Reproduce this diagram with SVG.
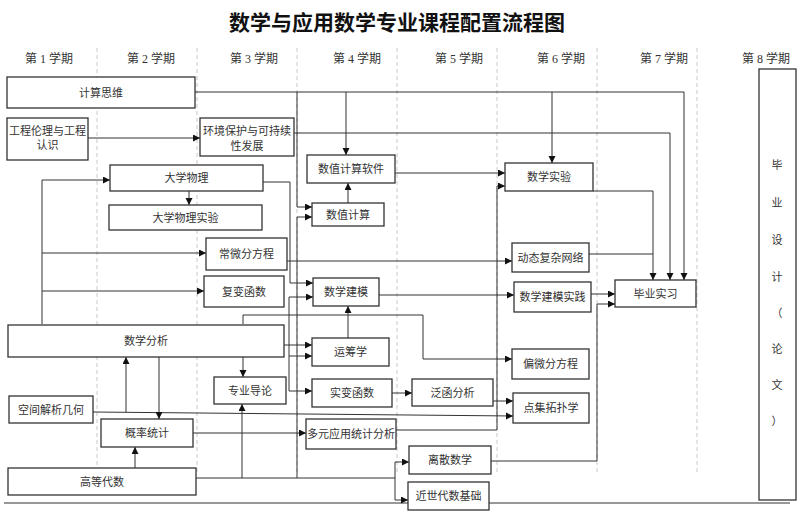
<svg xmlns="http://www.w3.org/2000/svg" width="799" height="513" viewBox="0 0 799 513">
<style>
.bx{fill:#fff;stroke:#333;stroke-width:1.3}
.t{font-family:"Liberation Serif","Noto Sans CJK SC",serif;font-size:11px;fill:#333;text-anchor:middle}
.h{font-family:"Liberation Serif","Noto Sans CJK SC",serif;font-size:12px;fill:#333;text-anchor:middle}
.ttl{font-family:"Liberation Serif","Noto Sans CJK SC",serif;font-size:21px;font-weight:bold;fill:#111;text-anchor:middle}
.dash{stroke:#c8c8c8;stroke-width:1;stroke-dasharray:4 3;fill:none}
.c{fill:none;stroke:#333;stroke-width:1}
.a{marker-end:url(#ar)}
</style>
<defs>
<marker id="ar" markerUnits="userSpaceOnUse" markerWidth="8" markerHeight="8" refX="7" refY="3.5" orient="auto">
<path d="M0,0 L7,3.5 L0,7 z" fill="#111"/>
</marker>
</defs>
<rect width="799" height="513" fill="#fff"/>
<text class="ttl" x="397" y="30">数学与应用数学专业课程配置流程图</text>
<g id="headers">
<text class="h" x="49" y="63">第 1 学期</text>
<text class="h" x="151" y="63">第 2 学期</text>
<text class="h" x="254" y="63">第 3 学期</text>
<text class="h" x="357" y="63">第 4 学期</text>
<text class="h" x="459" y="63">第 5 学期</text>
<text class="h" x="561" y="63">第 6 学期</text>
<text class="h" x="664" y="63">第 7 学期</text>
<text class="h" x="766" y="63">第 8 学期</text>
</g>
<g id="grid">
<path class="dash" d="M97,48V472M197,48V472M297,48V472M397,48V472M497,48V472M597,48V472M697,48V472"/>
<path class="c" d="M4,503H790" stroke-width="1.3"/>
</g>
<g id="connectors">
<path class="c a" d="M195,92H684V280"/>
<path class="c a" d="M346,92V155"/>
<path class="c a" d="M552,92V163"/>
<path class="c a" d="M297,92V207H312"/>
<path class="c a" d="M88,138H200"/>
<path class="c a" d="M294,133H670V280"/>
<path class="c a" d="M263,182H290V283H313"/>
<path class="c a" d="M189,191V205"/>
<path class="c a" d="M42,324V180H110"/>
<path class="c a" d="M42,253H206"/>
<path class="c a" d="M42,291H204"/>
<path class="c a" d="M348,203V183"/>
<path class="c a" d="M395,173H505"/>
<path class="c a" d="M287,261H512"/>
<path class="c a" d="M379,295H514"/>
<path class="c a" d="M593,191H653V280"/>
<path class="c" d="M589,254H653"/>
<path class="c a" d="M591,294H615"/>
<path class="c a" d="M491,461H597V304H615"/>
<path class="c a" d="M396,430H497V186H505"/>
<path class="c a" d="M348,338V306"/>
<path class="c a" d="M243,324V315H423V359H512"/>
<path class="c a" d="M284,345H312"/>
<path class="c a" d="M289,391V297H313"/>
<path class="c a" d="M289,356H312"/>
<path class="c a" d="M289,391H312"/>
<path class="c a" d="M243,357V377"/>
<path class="c" d="M196,478H395M395,462V500"/>
<path class="c a" d="M395,462H409"/>
<path class="c a" d="M395,500H408"/>
<path class="c a" d="M242,478V404"/>
<path class="c a" d="M297,478V217H312"/>
<path class="c a" d="M93,412L513,416"/>
<path class="c a" d="M126,412V357"/>
<path class="c a" d="M159,357V419"/>
<path class="c a" d="M135,468V447"/>
<path class="c a" d="M193,433H306"/>
<path class="c a" d="M392,393H412"/>
<path class="c a" d="M493,401H513"/>
</g>
<g id="n1"><rect class="bx" x="7" y="77" width="188" height="31"/><text class="t" x="101" y="96.5">计算思维</text></g>
<g id="n2"><rect class="bx" x="7" y="118" width="81" height="42"/><text class="t" x="47.5" y="135">工程伦理与工程</text><text class="t" x="47.5" y="149">认识</text></g>
<g id="n3"><rect class="bx" x="200" y="118" width="94" height="38"/><text class="t" x="247" y="135">环境保护与可持续</text><text class="t" x="247" y="150">性发展</text></g>
<g id="n4"><rect class="bx" x="307" y="155" width="88" height="28"/><text class="t" x="351" y="173">数值计算软件</text></g>
<g id="n5"><rect class="bx" x="505" y="163" width="88" height="28"/><text class="t" x="549" y="181">数学实验</text></g>
<g id="n6"><rect class="bx" x="110" y="165" width="153" height="26"/><text class="t" x="186.5" y="182">大学物理</text></g>
<g id="n7"><rect class="bx" x="109" y="205" width="153" height="25"/><text class="t" x="185.5" y="221.5">大学物理实验</text></g>
<g id="n8"><rect class="bx" x="206" y="238" width="81" height="32"/><text class="t" x="246.5" y="258">常微分方程</text></g>
<g id="n9"><rect class="bx" x="204" y="276" width="80" height="31"/><text class="t" x="244" y="295.5">复变函数</text></g>
<g id="n10"><rect class="bx" x="312" y="203" width="72" height="23"/><text class="t" x="348" y="218.5">数值计算</text></g>
<g id="n11"><rect class="bx" x="313" y="278" width="66" height="28"/><text class="t" x="346" y="296">数学建模</text></g>
<g id="n12"><rect class="bx" x="512" y="243" width="77" height="29"/><text class="t" x="550.5" y="261.5">动态复杂网络</text></g>
<g id="n13"><rect class="bx" x="514" y="282" width="77" height="30"/><text class="t" x="552.5" y="301">数学建模实践</text></g>
<g id="n14"><rect class="bx" x="615" y="280" width="81" height="27"/><text class="t" x="655.5" y="297.5">毕业实习</text></g>
<g id="n15"><rect class="bx" x="759" y="69" width="37" height="431"/>
<text class="t" x="777" y="169">毕</text><text class="t" x="777" y="207">业</text><text class="t" x="777" y="244">设</text><text class="t" x="777" y="281">计</text><text class="t" x="777" y="317">（</text><text class="t" x="777" y="353">论</text><text class="t" x="777" y="389">文</text><text class="t" x="777" y="425">）</text></g>
<g id="n16"><rect class="bx" x="8" y="325" width="276" height="32"/><text class="t" x="146" y="345">数学分析</text></g>
<g id="n17"><rect class="bx" x="214" y="377" width="72" height="27"/><text class="t" x="250" y="394.5">专业导论</text></g>
<g id="n18"><rect class="bx" x="9" y="396" width="84" height="27"/><text class="t" x="51" y="413.5">空间解析几何</text></g>
<g id="n19"><rect class="bx" x="101" y="419" width="92" height="28"/><text class="t" x="147" y="437">概率统计</text></g>
<g id="n20"><rect class="bx" x="8" y="468" width="188" height="27"/><text class="t" x="102" y="485.5">高等代数</text></g>
<g id="n21"><rect class="bx" x="312" y="338" width="77" height="28"/><text class="t" x="350.5" y="356">运筹学</text></g>
<g id="n22"><rect class="bx" x="312" y="379" width="80" height="28"/><text class="t" x="352" y="397">实变函数</text></g>
<g id="n23"><rect class="bx" x="412" y="379" width="81" height="27"/><text class="t" x="452.5" y="396.5">泛函分析</text></g>
<g id="n24"><rect class="bx" x="512" y="349" width="77" height="30"/><text class="t" x="550.5" y="368">偏微分方程</text></g>
<g id="n25"><rect class="bx" x="513" y="393" width="76" height="30"/><text class="t" x="551" y="412">点集拓扑学</text></g>
<g id="n26"><rect class="bx" x="306" y="419" width="90" height="30"/><text class="t" x="351" y="438">多元应用统计分析</text></g>
<g id="n27"><rect class="bx" x="409" y="446" width="82" height="28"/><text class="t" x="450" y="464">离散数学</text></g>
<g id="n28"><rect class="bx" x="408" y="482" width="81" height="28"/><text class="t" x="448.5" y="500">近世代数基础</text></g>
</svg>
